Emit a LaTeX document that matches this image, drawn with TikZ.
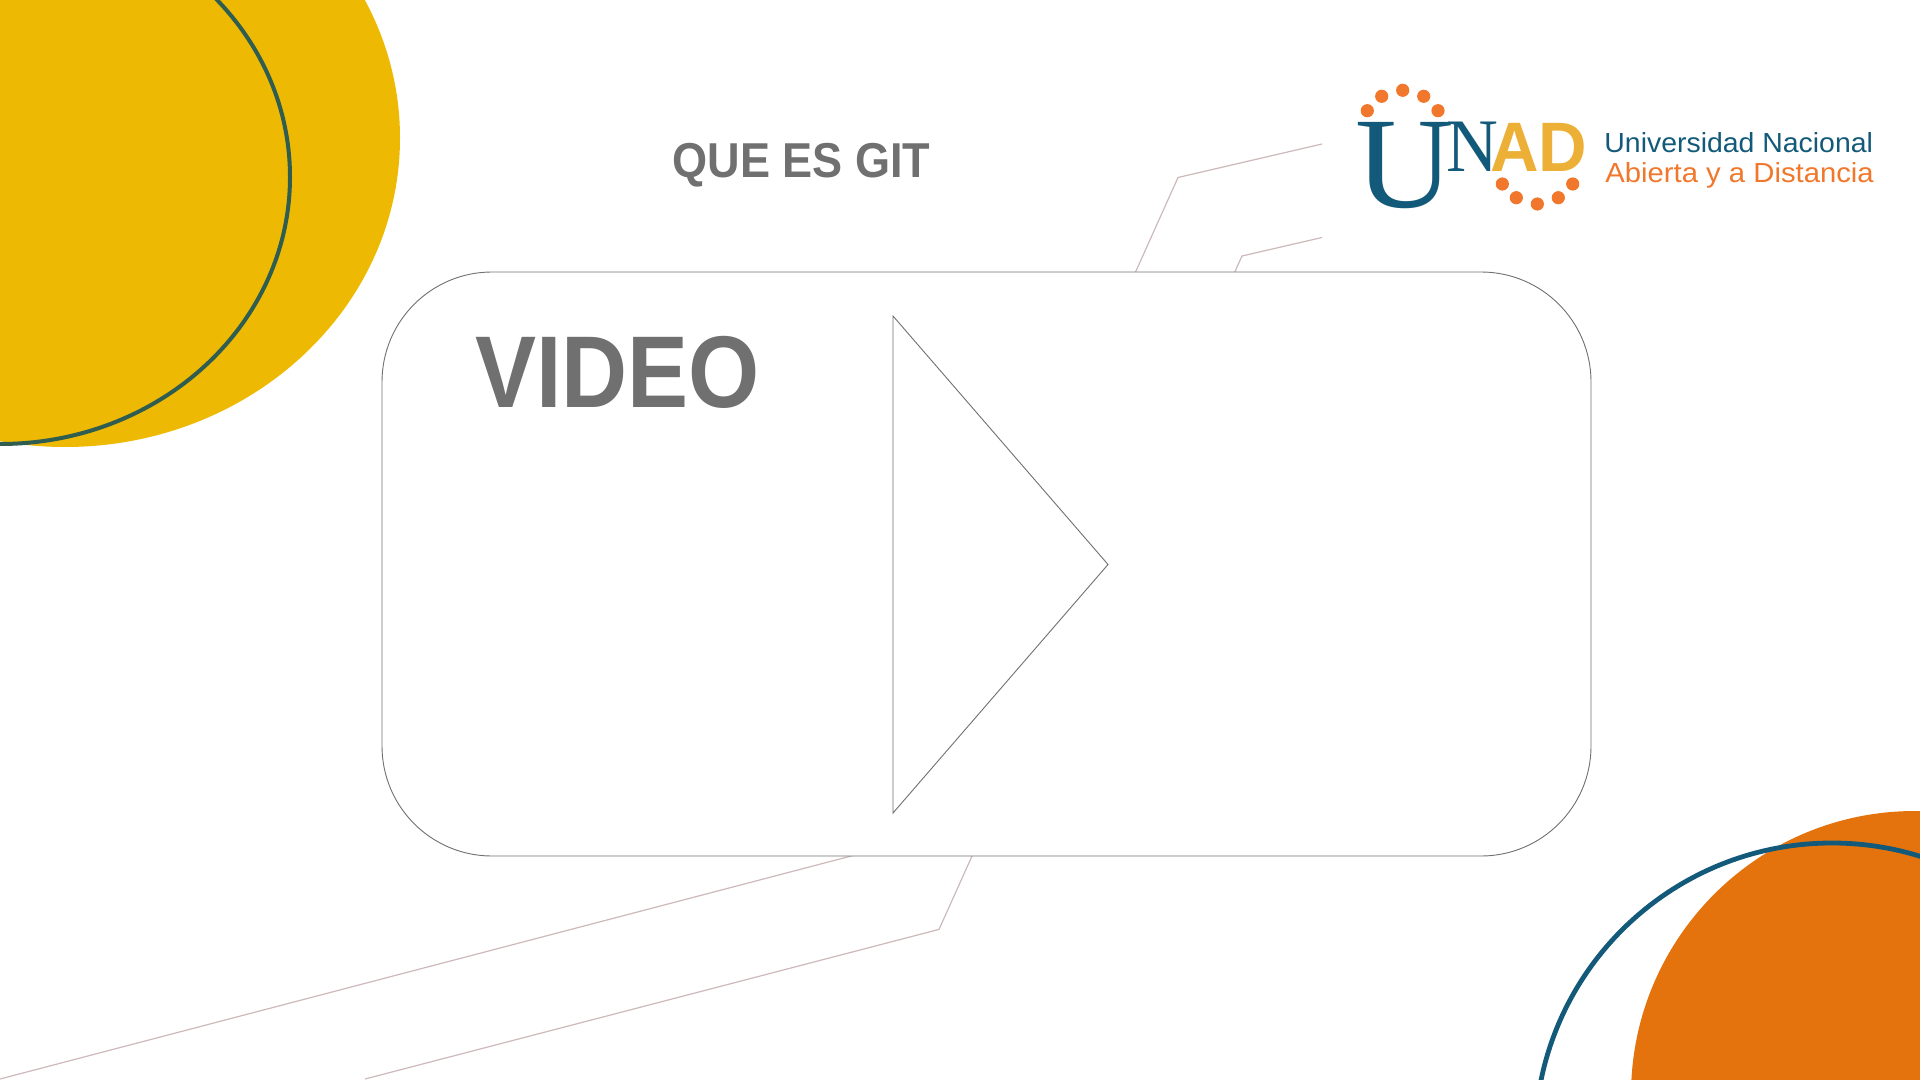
\documentclass[tikz,border=0pt]{standalone}
\usepackage{fontspec}
\setmainfont{Liberation Sans}
\newfontfamily\headfont[FakeStretch=0.92]{Liberation Sans}
\newfontfamily\serifmark{Liberation Serif}
\definecolor{sunyellow}{HTML}{EDB903}
\definecolor{pinegreen}{HTML}{2F5D50}
\definecolor{deeporange}{HTML}{E5730D}
\definecolor{seablue}{HTML}{135A7A}
\definecolor{wirepink}{HTML}{CDB8BA}
\definecolor{headgray}{HTML}{707070}
\definecolor{logogold}{HTML}{EBB035}
\definecolor{logodot}{HTML}{F0772B}
\tikzset{
  panel/.style={draw=headgray,line width=0.45pt,fill=white,rounded corners=55pt,
    minimum width=604.5pt,minimum height=292pt,inner sep=0pt},
  wire/.style={draw=wirepink,line width=0.6pt},
  headtext/.style={text=headgray,inner sep=0pt,anchor=base west},
  logotext/.style={inner sep=0pt,anchor=base west},
  logodotnode/.style={circle,fill=logodot,minimum size=6.6pt,inner sep=0pt},
}

\begin{document}
\begin{tikzpicture}[x=0.5pt,y=-0.5pt]
\useasboundingbox (0,0) rectangle (1920,1080);
\clip (0,0) rectangle (1920,1080);

\fill [sunyellow]  (65,138)    ellipse [x radius=335,y radius=309];
\draw [pinegreen,line width=2pt]   (0,177)    ellipse [x radius=290,y radius=267];
\fill [deeporange] (1915,1095) circle [radius=284];
\draw [seablue,line width=2.4pt]   (1832,1140) circle [radius=297];

\coordinate (wireatop)  at (1322,144);
\coordinate (wireakink) at (1178,177.5);
\coordinate (wireabend) at (876,849.5);
\coordinate (wireaend)  at (0,1079);
\coordinate (wirebtop)  at (1322,237.5);
\coordinate (wirebkink) at (1242,256);
\coordinate (wirebbend) at (939,929.4);
\coordinate (wirebend)  at (365,1079);
\draw [wire] (wireatop) -- (wireakink) -- (wireabend) -- (wireaend);
\draw [wire] (wirebtop) -- (wirebkink) -- (wirebbend) -- (wirebend);

\node [panel] (videopanel) at (986.5,564) {};

\coordinate (playtop)   at (893,316);
\coordinate (playtip)   at (1108,564.5);
\coordinate (playfoot)  at (893,813);
\draw [draw=headgray,line width=0.45pt] (playtop) -- (playtip) -- (playfoot) -- cycle;

\node [headtext,font=\headfont\bfseries\fontsize{51}{51}\selectfont,xscale=0.975] (videolabel) at (475,407) {VIDEO};
\node [headtext,font=\headfont\bfseries\fontsize{24.5}{25}\selectfont] (titlelabel) at (672,178) {QUE ES GIT};

% logo
\node [logotext,text=seablue,font=\serifmark\fontsize{65}{65}\selectfont,xscale=1.05]
    (logou) at (1355,207.5) {U};
\node [logotext,text=seablue,font=\serifmark\fontsize{37.8}{38}\selectfont,xscale=0.95]
    (logon) at (1446.5,171.7) {N};
\node [logotext,text=logogold,font=\bfseries\fontsize{35}{35}\selectfont,xscale=0.96]
    (logoad) at (1490,171.7) {AD};
\foreach \dotname/\dotx/\doty in {a/1367.3/110.7,b/1381.7/96.3,c/1402.7/90.3,d/1423.7/96.3,e/1438/110.7,
    f/1502.3/184,g/1516.3/197.7,h/1537.3/204,i/1558.3/197.7,j/1572.7/184}
  \node [logodotnode] (logodot\dotname) at (\dotx,\doty) {};
\node [logotext,text=seablue,font=\fontsize{13.8}{14}\selectfont,xscale=1.03]
    (logoline) at (1604,152.7) {Universidad Nacional};
\node [logotext,text=logodot,font=\fontsize{13.8}{14}\selectfont,xscale=1.06]
    (logoplace) at (1605,182.7) {Abierta y a Distancia};
\end{tikzpicture}
\end{document}
